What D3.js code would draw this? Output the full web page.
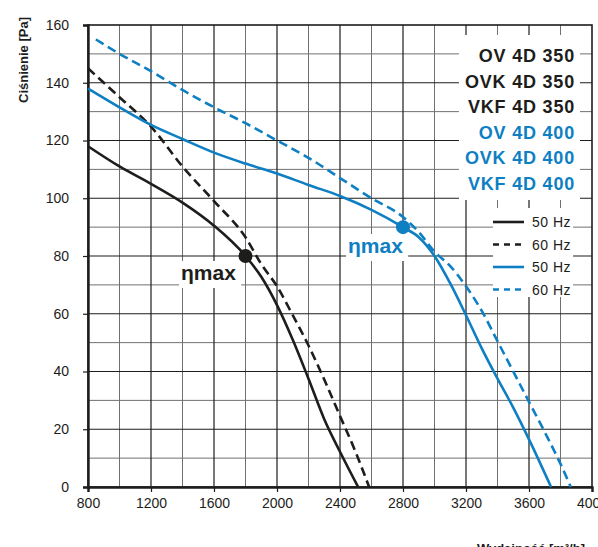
<!DOCTYPE html>
<html>
<head>
<meta charset="utf-8">
<script src="https://cdn.jsdelivr.net/npm/d3@7"></script>
<style>
  body { margin: 0; background: #fff; }
  svg { display: block; font-family: "Liberation Sans", Arial, sans-serif; }
</style>
</head>
<body>
<script>
// curves: [flow m3/h, pressure Pa]
const black50 = [[800,118],[1000,111],[1200,105],[1400,98.5],[1600,90.5],[1800,80],[1900,72.8],[2000,63],
  [2100,51],[2200,37.5],[2300,23.5],[2400,12.2],[2515,0]];
const black60 = [[800,145],[1000,135],[1200,124.8],[1400,111],[1600,99],[1800,86.5],[1900,77.2],[2000,69.5],
  [2100,59.5],[2200,49],[2300,37.2],[2400,24.6],[2500,12],[2585,0]];
const blue50 = [[800,138],[1000,131.5],[1200,125.4],[1400,120.5],[1600,115.8],[1800,112],[2000,108.6],
  [2200,104.6],[2400,100.8],[2600,96],[2800,90],[2900,86.5],[3000,80],[3100,70.5],[3200,59.5],[3300,48],
  [3400,37.5],[3500,27.5],[3600,16.5],[3740,0]];
const blue60 = [[850,155],[1000,150],[1200,144],[1400,137.5],[1600,131.5],[1800,126],[2000,120],[2200,114],
  [2400,107],[2600,100],[2800,93.5],[2900,88.3],[3000,81.5],[3100,76.5],[3200,69.5],[3300,61],[3400,50.5],
  [3500,40],[3600,29.5],[3700,19],[3800,8],[3865,0]];

const etaMax350 = [1800, 80];
const etaMax400 = [2800, 90];

const xTicks = [800,1200,1600,2000,2400,2800,3200,3600,4000];
const yTicks = [0,20,40,60,80,100,120,140,160];

const models350 = ["OV 4D 350","OVK 4D 350","VKF 4D 350"];
const models400 = ["OV 4D 400","OVK 4D 400","VKF 4D 400"];
const freqLabels = ["50 Hz","60 Hz","50 Hz","60 Hz"];

const BLACK = "#1d1d1b", BLUE = "#0e7fc3";

function main(){
    const W = 598, H = 547;
    const left = 88, right = 592, top = 25, bottom = 487;

    const svg = d3.select("body").append("svg")
        .attr("width", W)
        .attr("height", H);

    const x = d3.scaleLinear().domain([800,4000]).range([left,right]);
    const y = d3.scaleLinear().domain([0,160]).range([bottom,top]);

    // grid
    const grid = svg.append("g");
    d3.range(1000, 4000, 400).forEach(v => grid.append("line")
        .attr("x1", x(v)).attr("x2", x(v)).attr("y1", top).attr("y2", bottom)
        .attr("stroke", "#707070").attr("stroke-width", 1));
    d3.range(10, 160, 20).forEach(v => grid.append("line")
        .attr("x1", left).attr("x2", right).attr("y1", y(v)).attr("y2", y(v))
        .attr("stroke", "#707070").attr("stroke-width", 1));
    xTicks.slice(1, -1).forEach(v => grid.append("line")
        .attr("x1", x(v)).attr("x2", x(v)).attr("y1", top).attr("y2", bottom)
        .attr("stroke", BLACK).attr("stroke-width", 1.2));
    yTicks.slice(1, -1).forEach(v => grid.append("line")
        .attr("x1", left).attr("x2", right).attr("y1", y(v)).attr("y2", y(v))
        .attr("stroke", BLACK).attr("stroke-width", 1.2));

    // frame
    svg.append("rect")
        .attr("x", left).attr("y", top).attr("width", right-left).attr("height", bottom-top)
        .attr("fill", "none").attr("stroke", BLACK).attr("stroke-width", 1.6);

    // axes
    const xAxis = svg.append("g")
        .attr("transform", `translate(0,${bottom})`)
        .call(d3.axisBottom(x).tickValues(xTicks).tickSize(5).tickPadding(6).tickFormat(d3.format("d")));
    const yAxis = svg.append("g")
        .attr("transform", `translate(${left},0)`)
        .call(d3.axisLeft(y).tickValues(yTicks).tickSize(5).tickPadding(14).tickFormat(d3.format("d")));
    [xAxis, yAxis].forEach(a => {
        a.select(".domain").attr("stroke", BLACK).attr("stroke-width", 2.4);
        a.selectAll(".tick line").attr("stroke", BLACK).attr("stroke-width", 1.2);
        a.selectAll(".tick text").attr("fill", BLACK)
            .attr("font-size", 14).attr("font-family", "Liberation Sans, Arial, sans-serif");
    });

    // axis titles
    svg.append("text")
        .attr("transform", "translate(28,60) rotate(-90)")
        .attr("text-anchor", "middle")
        .attr("font-size", 13).attr("font-weight", "bold").attr("fill", BLACK)
        .text("Ciśnienie [Pa]");
    svg.append("text")
        .attr("x", 585).attr("y", 552.5)
        .attr("text-anchor", "end")
        .attr("font-size", 13).attr("font-weight", "bold").attr("fill", BLACK)
        .text("Wydajność [m³/h]");

    // model legend (white box behind)
    const modelG = svg.append("g");
    const modelBg = modelG.append("rect").attr("fill", "#fff");
    models350.concat(models400).forEach((t, i) => modelG.append("text")
        .attr("x", 575).attr("y", 62 + i*25.6)
        .attr("text-anchor", "end")
        .attr("font-size", 18).attr("font-weight", "bold")
        .attr("letter-spacing", 0.8)
        .attr("fill", i < 3 ? BLACK : BLUE)
        .text(t));
    let bb = modelG.node().getBBox();
    modelBg.attr("x", bb.x - 6).attr("y", 35)
        .attr("width", 580 - (bb.x - 6)).attr("height", 200 - 35);

    // frequency legend
    const freqG = svg.append("g");
    const freqBg = freqG.append("rect").attr("fill", "#fff");
    freqLabels.forEach((t, i) => {
        const cy = 222 + i*22.5;
        const c = i < 2 ? BLACK : BLUE;
        freqG.append("line")
            .attr("x1", 493).attr("x2", 524).attr("y1", cy).attr("y2", cy)
            .attr("stroke", c).attr("stroke-width", 2.6)
            .attr("stroke-dasharray", i % 2 ? "6,5" : null);
        freqG.append("text")
            .attr("x", 532).attr("y", cy + 5)
            .attr("font-size", 14).attr("letter-spacing", 0.5).attr("fill", BLACK)
            .text(t);
    });
    bb = freqG.node().getBBox();
    freqBg.attr("x", bb.x).attr("y", 208).attr("width", bb.width + 2).attr("height", 297 - 208);

    // curves
    const line = d3.line().x(d => x(d[0])).y(d => y(d[1])).curve(d3.curveMonotoneX);
    const series = [
        {data: black60, color: BLACK, dash: "9,5"},
        {data: blue60, color: BLUE, dash: "9,5"},
        {data: black50, color: BLACK, dash: null},
        {data: blue50, color: BLUE, dash: null}
    ];
    svg.append("g").selectAll("path").data(series).join("path")
        .attr("d", d => line(d.data))
        .attr("fill", "none")
        .attr("stroke", d => d.color)
        .attr("stroke-width", 2.6)
        .attr("stroke-dasharray", d => d.dash);

    // eta max points and labels
    [{p: etaMax350, color: BLACK, tx: 181, ty: 280},
     {p: etaMax400, color: BLUE, tx: 348, ty: 253}].forEach(e => {
        const g = svg.append("g");
        const bg = g.append("rect").attr("fill", "#fff");
        const t = g.append("text")
            .attr("x", e.tx).attr("y", e.ty)
            .attr("font-size", 21).attr("font-weight", "bold").attr("fill", e.color)
            .text("ηmax");
        const b = t.node().getBBox();
        bg.attr("x", b.x - 2).attr("y", b.y).attr("width", b.width + 7).attr("height", b.height + 4);
        svg.append("circle")
            .attr("cx", x(e.p[0])).attr("cy", y(e.p[1])).attr("r", 7)
            .attr("fill", e.color);
    });
}
main();
</script>
</body>
</html>
